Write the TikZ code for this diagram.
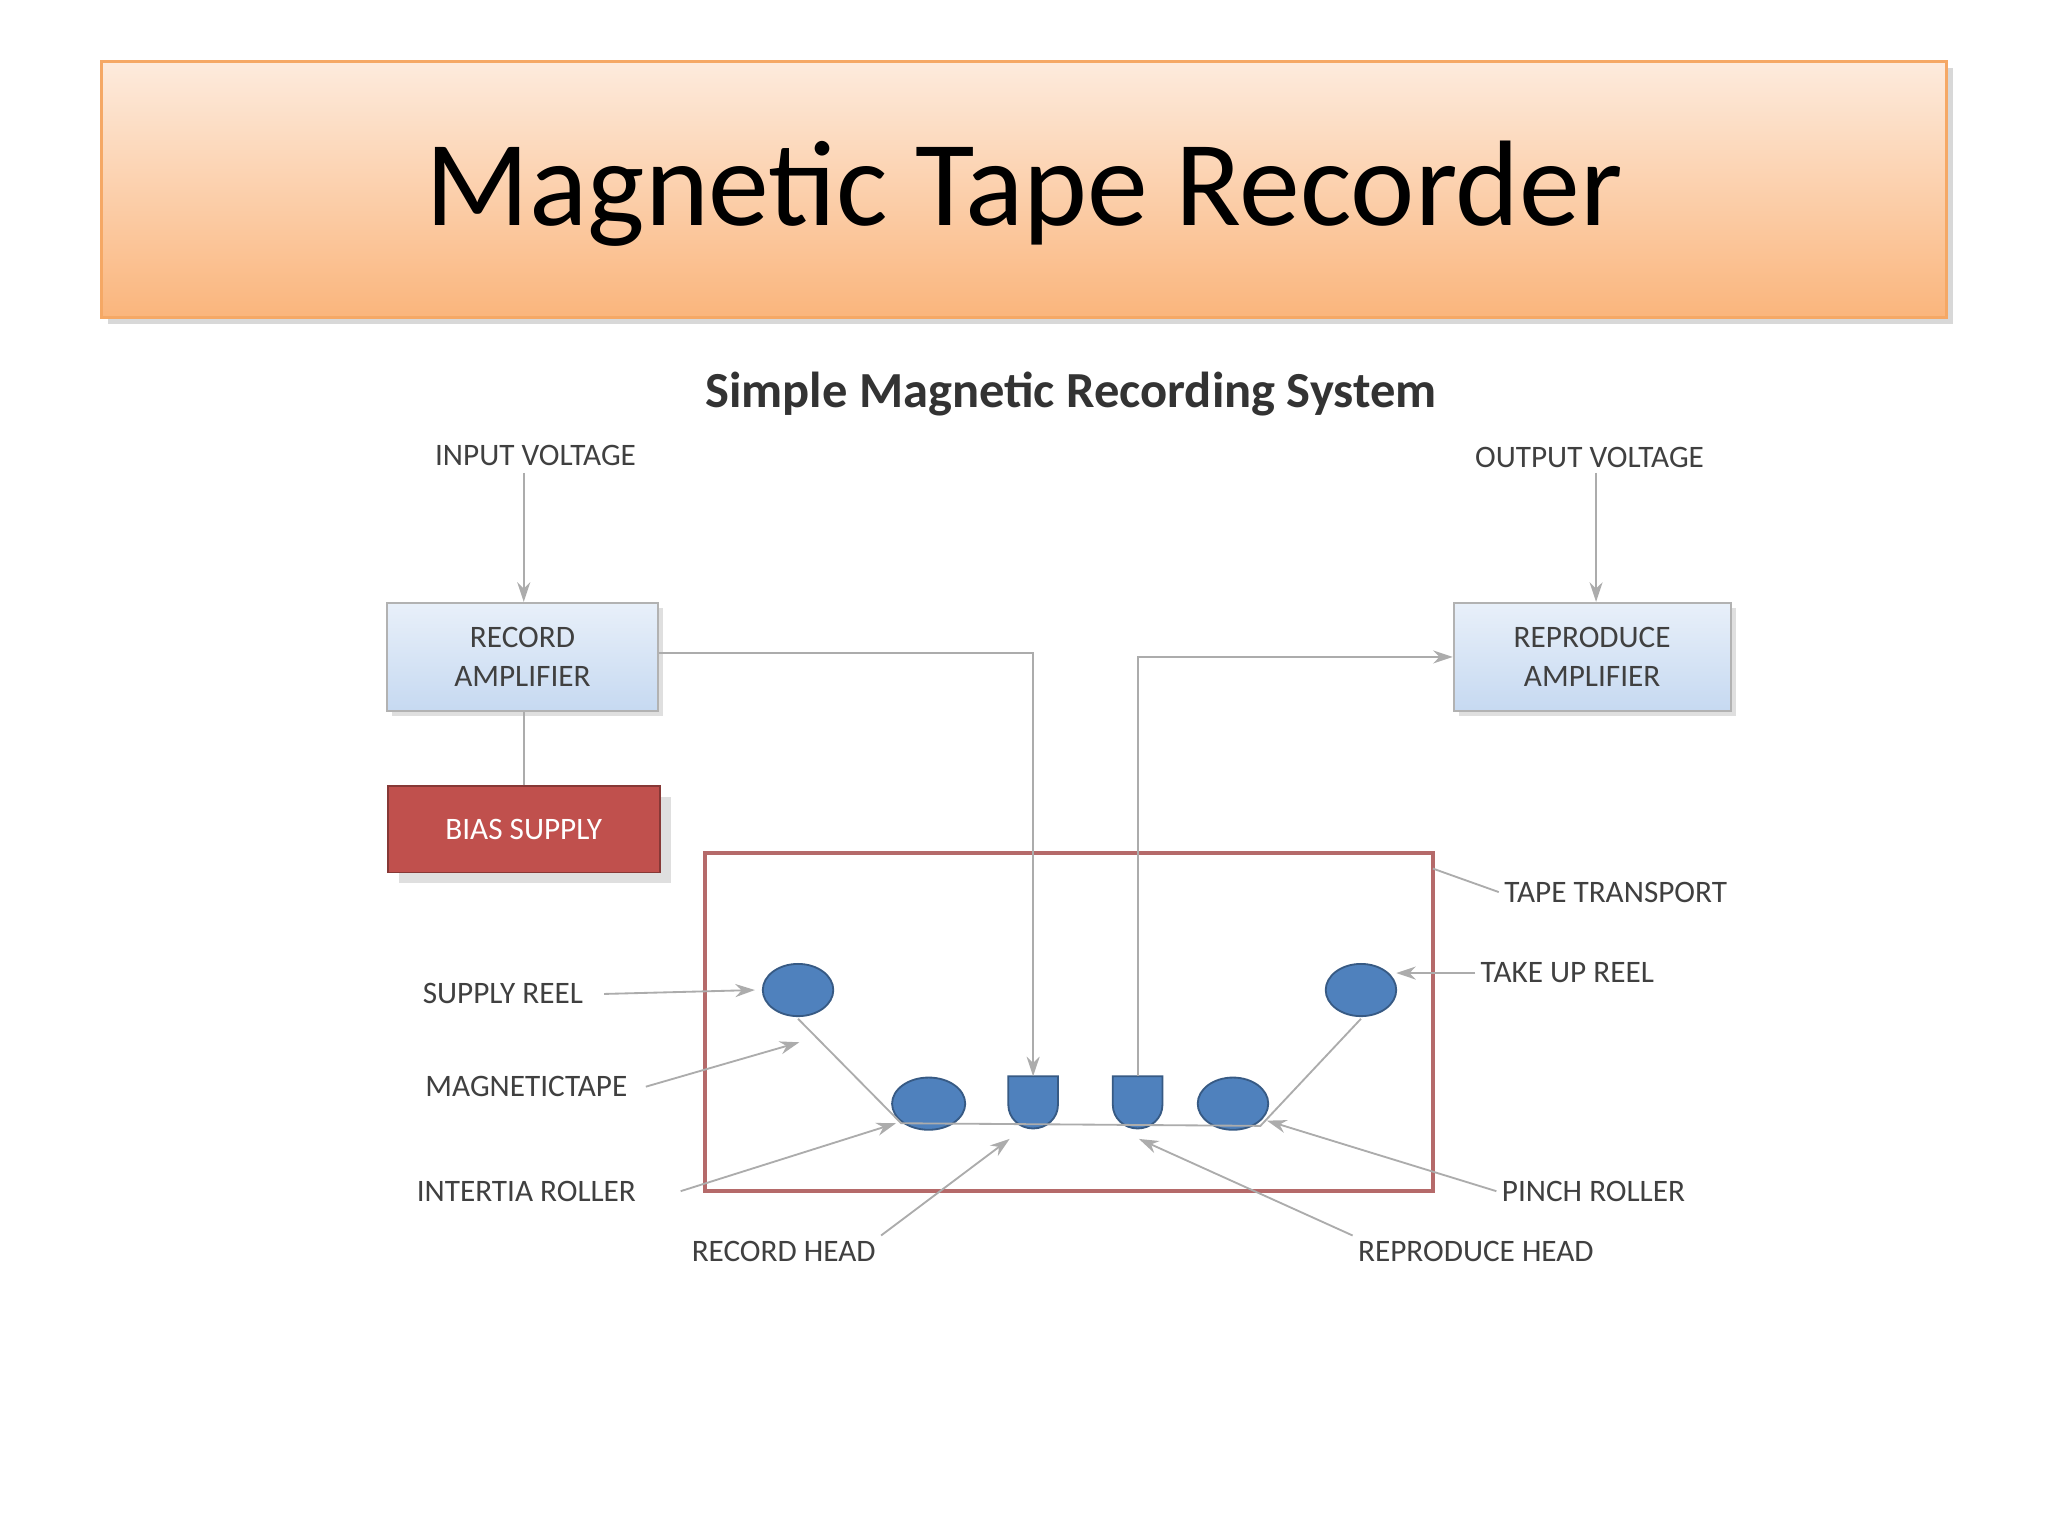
\documentclass[tikz,border=0pt]{standalone}
\usepackage{fontspec}
\setmainfont{Carlito}
\usetikzlibrary{arrows.meta,shadows}
\definecolor{lbl}{HTML}{404040}
\definecolor{blu}{HTML}{4F81BD}
\definecolor{ampb}{HTML}{C6D9F1}
\definecolor{biasc}{HTML}{C0504D}
\definecolor{boxc}{HTML}{B56A6A}
\definecolor{bord}{HTML}{F5A865}
\definecolor{btop}{HTML}{FDEBDD}
\definecolor{bbot}{HTML}{FAB57C}
\tikzset{
 lab/.style={font=\fontsize{6.8}{8}\selectfont, text=lbl, inner sep=1pt},
 amp/.style={draw=gray!60, top color=ampb!40, bottom color=ampb, minimum width=2.07cm, minimum height=0.83cm, align=center, font=\fontsize{6.8}{8.5}\selectfont, text=lbl, drop shadow={opacity=0.25,shadow xshift=0.4mm,shadow yshift=-0.4mm}},
 ln/.style={draw=gray!65, line width=0.4pt},
 arr/.style={ln, -{Stealth[length=1.5mm,width=1mm]}},
 part/.style={fill=blu, draw=blu!70!black, line width=0.4pt},
}
\begin{document}
\begin{tikzpicture}[x=0.01cm,y=-0.01cm]
\useasboundingbox (0,0) rectangle (1568,1176);
\fill[white] (0,0) rectangle (1568,1176);
% banner
\node[draw=bord, line width=0.6pt, top color=btop, bottom color=bbot, minimum width=14.12cm, minimum height=1.96cm, inner sep=0pt, drop shadow={opacity=0.3,shadow xshift=0.5mm,shadow yshift=-0.5mm}] (banner) at (784,145) {};
\node[font=\fontsize{26.5}{30}\selectfont] (title) at (784,148) {Magnetic Tape Recorder};
\node[font=\fontsize{11}{12}\selectfont\bfseries, text=black!80] (sub) at (820,302) {Simple Magnetic Recording System};
% top labels
\node[lab] (inv) at (410,349) {INPUT VOLTAGE};
\node[lab] (outv) at (1217,350) {OUTPUT VOLTAGE};
\node[amp] (ramp) at (400,503) {RECORD\\AMPLIFIER};
\node[amp, minimum width=2.12cm] (pamp) at (1219,503) {REPRODUCE\\AMPLIFIER};
\node[draw=biasc!70!black, fill=biasc, minimum width=2.08cm, minimum height=0.66cm, font=\fontsize{6.8}{8}\selectfont, text=white, drop shadow={opacity=0.25}] (bias) at (401,635) {BIAS SUPPLY};
\draw[arr] (401,362) -- (ramp.north -| 401,0);
\draw[ln] (bias.north -| 401,0) -- (ramp.south -| 401,0);
\draw[arr] (1222,362) -- (pamp.north -| 1222,0);
% transport
\draw[draw=boxc, line width=0.8pt] (540,653) rectangle (1097,912);
\coordinate (tt) at (1097,665);
\node[lab] (ttl) at (1237,683) {TAPE TRANSPORT};
\draw[ln] (ttl.west) -- (tt);
% reels and rollers
\draw[part] (611,758) ellipse (27 and 20);
\draw[part] (1042,758) ellipse (27 and 20);
\draw[part] (711,845) ellipse (28 and 20);
\draw[part] (944,845) ellipse (27 and 20);
% heads
\draw[part] (772,824) -- (810,824) -- (810,846) arc (0:180:19 and 18) -- cycle;
\draw[part] (852,824) -- (890,824) -- (890,846) arc (0:180:19 and 18) -- cycle;
\coordinate (rh) at (791,824); \coordinate (ph) at (871,824);
% tape
\draw[ln] (611,780) -- (690,860) -- (965,862) -- (1042,780);
% signal lines
\draw[arr] (ramp.east |- 0,500) -- (791,500) -- (rh);
\draw[arr] (ph) -- (871,503) -- (pamp.west |- 0,503);
% labels
\node[lab] (srl) at (385,761) {SUPPLY REEL};
\draw[arr] (srl.east) ++(12,0) -- (578,758);
\node[lab] (mtl) at (403,832) {MAGNETICTAPE};
\draw[arr] (mtl.east) ++(10,0) -- (612,798);
\node[lab] (irl) at (403,912) {INTERTIA ROLLER};
\draw[arr] (irl.east) ++(30,0) -- (686,860);
\node[lab] (rhl) at (600,958) {RECORD HEAD};
\draw[arr] (rhl.north east) -- (773,872);
\node[lab] (phl) at (1130,958) {REPRODUCE HEAD};
\draw[arr] (phl.north west) -- (872,872);
\node[lab] (prl) at (1220,912) {PINCH ROLLER};
\draw[arr] (prl.west) -- (970,858);
\node[lab] (tul) at (1200,745) {TAKE UP REEL};
\draw[arr] (tul.west) -- (1069,745);
\end{tikzpicture}
\end{document}
